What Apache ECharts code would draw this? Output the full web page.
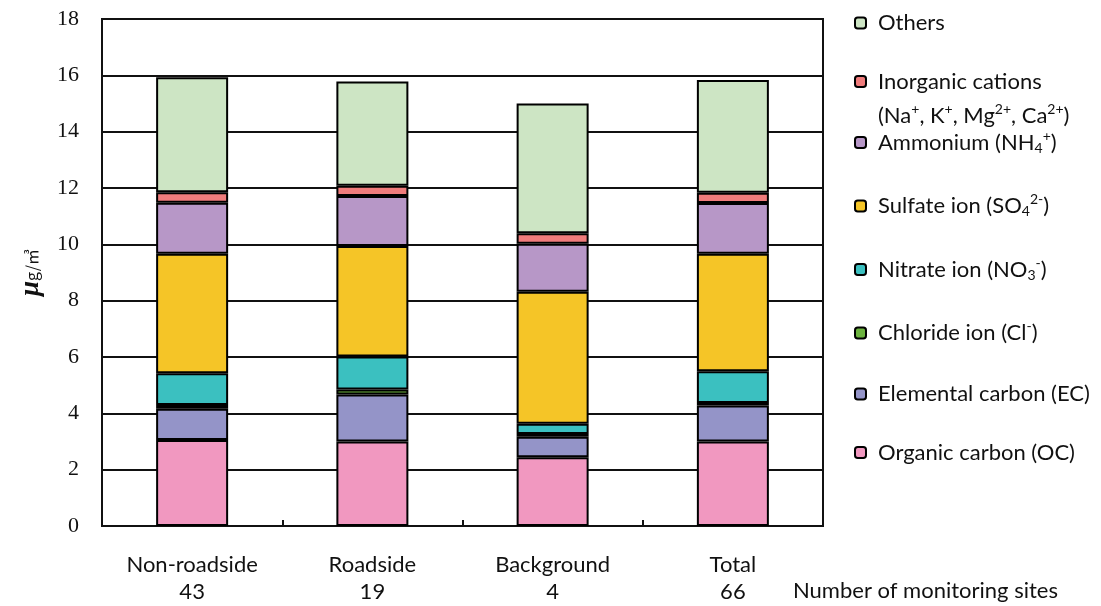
<!DOCTYPE html>
<html>
<head>
<meta charset="utf-8">
<title>PM2.5 component composition</title>
<script src="https://cdn.jsdelivr.net/npm/echarts@6.0.0/dist/echarts.min.js"></script>
<style>
  html, body { margin: 0; padding: 0; background: #fff; }
  #chart { width: 1101px; height: 606px; }
</style>
</head>
<body>
<div id="chart"></div>
<script>
// Site categories and number of monitoring sites per category
const categories = ['Non-roadside', 'Roadside', 'Background', 'Total'];
const siteCounts = [43, 19, 4, 66];

// Y-axis ticks (µg/m³)
const yTicks = [0, 2, 4, 6, 8, 10, 12, 14, 16, 18];

// Component concentrations (µg/m³), stacked from the bottom up
const organicCarbon   = [3.05, 3.00, 2.44, 3.00];
const elementalCarbon = [1.11, 1.67, 0.73, 1.28];
const chloride        = [0.14, 0.18, 0.10, 0.09];
const nitrate         = [1.12, 1.17, 0.36, 1.12];
const sulfate         = [4.25, 3.92, 4.69, 4.18];
const ammonium        = [1.81, 1.78, 1.70, 1.80];
const cations         = [0.37, 0.36, 0.37, 0.36];
const others          = [4.08, 3.70, 4.61, 4.00];

const seriesNames = [
  'Organic carbon (OC)', 'Elemental carbon (EC)', 'Chloride ion (Cl-)',
  'Nitrate ion (NO3-)', 'Sulfate ion (SO42-)', 'Ammonium (NH4+)',
  'Inorganic cations', 'Others'
];
const seriesData = [organicCarbon, elementalCarbon, chloride, nitrate,
                    sulfate, ammonium, cations, others];
const seriesColors = ['#F198C0', '#9494C8', '#6CB33F', '#3BC0C0',
                      '#F5C527', '#B797C7', '#F07C7C', '#CDE5C4'];

// Legend labels with sub/superscripts (rich text)
const legendLabels = {
  'Others': '{t|Others}',
  'Inorganic cations': '{t|Inorganic cations}',
  'Ammonium (NH4+)': '{t|Ammonium (NH}{sub|4}{sup|+}{t|)}',
  'Sulfate ion (SO42-)': '{t|Sulfate ion (SO}{sub|4}{sup|2-}{t|)}',
  'Nitrate ion (NO3-)': '{t|Nitrate ion (NO}{sub|3}{sup|-}{t|)}',
  'Chloride ion (Cl-)': '{t|Chloride ion (Cl}{sup|-}{t|)}',
  'Elemental carbon (EC)': '{t|Elemental carbon (EC)}',
  'Organic carbon (OC)': '{t|Organic carbon (OC)}'
};
const cationsDetail = '{t|(Na}{sup|+}{t|, K}{sup|+}{t|, Mg}{sup|2+}{t|, Ca}{sup|2+}{t|)}';

const textFont = 'Lato, "Noto Sans", sans-serif';
const richStyles = {
  sp:  { width: 7, lineHeight: 20, fontSize: 20 },
  t:   { fontFamily: textFont, fontSize: 22, lineHeight: 20, color: '#111' },
  sup: { fontFamily: textFont, fontSize: 14, lineHeight: 20, color: '#111', padding: [0, 0, 13, 0] },
  sub: { fontFamily: textFont, fontSize: 14, lineHeight: 20, color: '#111', padding: [11, 0, 0, 0] }
};

const chart = echarts.init(document.getElementById('chart'), null, { renderer: 'canvas' });

const series = seriesNames.map((name, i) => ({
  name: name,
  type: 'bar',
  stack: 'total',
  barWidth: 72,
  data: seriesData[i],
  itemStyle: { color: seriesColors[i], borderColor: '#000', borderWidth: 2 },
  emphasis: { disabled: true }
}));

chart.setOption({
  animation: false,
  backgroundColor: '#fff',
  grid: {
    left: 102, right: 278, top: 19, bottom: 80,
    show: true, borderColor: '#111', borderWidth: 2, backgroundColor: 'transparent'
  },
  xAxis: {
    type: 'category',
    data: categories,
    boundaryGap: true,
    axisLine: { show: true, lineStyle: { color: '#111', width: 2 } },
    axisTick: { show: true, inside: true, length: 6, interval: 0, lineStyle: { color: '#111', width: 2 } },
    axisLabel: {
      interval: 0,
      margin: 25,
      fontFamily: textFont,
      fontSize: 22,
      lineHeight: 27,
      color: '#111',
      formatter: (v, idx) => v + '\n' + siteCounts[idx]
    }
  },
  yAxis: {
    type: 'value',
    min: yTicks[0],
    max: yTicks[yTicks.length - 1],
    interval: 2,
    name: '{mu|μ}{u|g/㎥}',
    nameLocation: 'middle',
    nameRotate: 90,
    nameGap: 57,
    nameTextStyle: {
      rich: {
        mu: { fontFamily: '"Liberation Serif", serif', fontStyle: 'italic', fontWeight: 'bold', fontSize: 27, color: '#111' },
        u:  { fontFamily: '"Noto Sans CJK JP", serif', fontSize: 16, color: '#111' }
      }
    },
    axisLine: { show: true, lineStyle: { color: '#111', width: 2 } },
    axisTick: { show: false },
    axisLabel: {
      margin: 23,
      fontFamily: '"Liberation Serif", "Times New Roman", serif',
      fontSize: 22,
      color: '#111'
    },
    splitLine: { show: true, lineStyle: { color: '#111', width: 2 } }
  },
  legend: {
    orient: 'vertical',
    left: 854,
    top: 12,
    padding: 0,
    itemWidth: 11,
    itemHeight: 11,
    itemGap: 36.5,
    data: ['Others', 'Inorganic cations', 'Ammonium (NH4+)', 'Sulfate ion (SO42-)',
           'Nitrate ion (NO3-)', 'Chloride ion (Cl-)', 'Elemental carbon (EC)', 'Organic carbon (OC)'],
    formatter: name => '{sp| }' + legendLabels[name],
    textStyle: { fontFamily: textFont, fontSize: 22, lineHeight: 20, color: '#111', rich: richStyles },
    selectedMode: false
  },
  graphic: [
    {
      type: 'text',
      left: 878,
      top: 102,
      style: { text: cationsDetail, rich: richStyles, fill: '#111', font: '22px ' + textFont }
    },
    {
      type: 'text',
      left: 793,
      top: 580,
      style: { text: 'Number of monitoring sites', fill: '#111', font: '22px ' + textFont }
    }
  ],
  series: series
});
</script>
</body>
</html>
